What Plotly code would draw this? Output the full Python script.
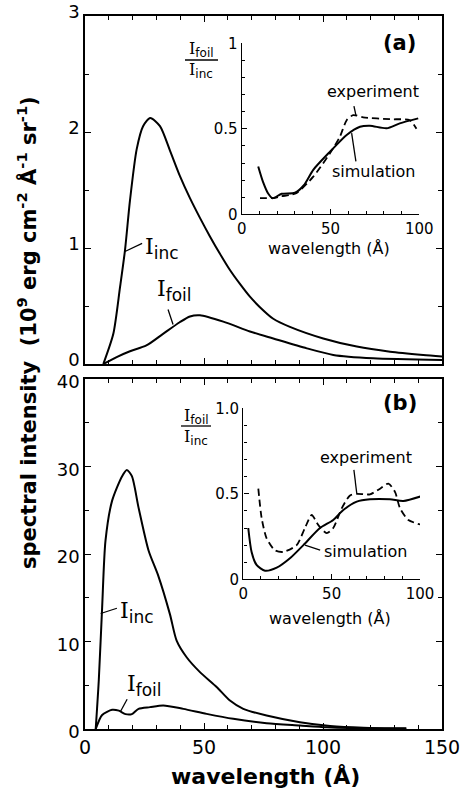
import plotly.graph_objects as go

# ---------------- data ----------------
# panel (a) main
a_inc_x = [7.7, 11.9, 14.7, 16.8, 18.9, 21.7, 24.4, 27.4, 31.5, 35.7, 39.9, 44.1, 48.3, 52.5, 56.7, 60.9, 65.1, 69.3, 73.5, 79.1, 86.1, 100.1, 114.2, 128.2, 142.1, 150]
a_inc_y = [0.0, 0.26, 0.66, 0.98, 1.41, 1.85, 2.05, 2.12, 2.05, 1.84, 1.62, 1.43, 1.26, 1.10, 0.95, 0.81, 0.69, 0.58, 0.49, 0.39, 0.32, 0.22, 0.15, 0.106, 0.078, 0.065]
a_foil_x = [7.7, 13.3, 18.9, 25.8, 32.8, 39.8, 44.1, 48.3, 58.1, 69.3, 79.1, 93.2, 104.3, 121.1, 150]
a_foil_y = [0.0, 0.06, 0.11, 0.16, 0.26, 0.36, 0.41, 0.42, 0.365, 0.28, 0.22, 0.135, 0.078, 0.049, 0.034]

# panel (a) inset
a_sim_x = [9.3, 12, 15, 17.4, 22.5, 30, 35, 40.3, 49.7, 59.1, 66.6, 72.2, 81.6, 89, 99.4]
a_sim_y = [0.28, 0.19, 0.12, 0.094, 0.12, 0.126, 0.17, 0.26, 0.366, 0.464, 0.512, 0.518, 0.503, 0.532, 0.561]
a_exp_x = [10.3, 14, 18, 22, 27.2, 31, 40.3, 49.7, 55.3, 59.1, 62.8, 68.4, 83.4, 94.7, 98.4]
a_exp_y = [0.095, 0.095, 0.095, 0.105, 0.113, 0.125, 0.22, 0.357, 0.454, 0.55, 0.58, 0.567, 0.556, 0.55, 0.50]

# panel (b) main
b_inc_x = [4.5, 5.8, 7.2, 8.6, 11.4, 15.6, 17.6, 19.7, 22.5, 26.7, 30.8, 35.7, 38.5, 42.7, 48.3, 55.3, 60.9, 66.5, 76.3, 90.3, 103, 117, 135]
b_inc_y = [0.0, 5.6, 13.9, 21.5, 26.1, 28.9, 29.6, 28.9, 25.3, 20.4, 17.5, 13.1, 10.1, 8.2, 6.5, 4.8, 3.25, 2.3, 1.54, 0.78, 0.35, 0.15, 0.08]
b_foil_x = [4.5, 7.2, 11.4, 14.2, 17, 19.7, 22.5, 27.3, 32.9, 41.3, 51.1, 62.3, 76.3, 90.3, 101.6, 117, 135]
b_foil_y = [0.0, 1.6, 2.2, 2.1, 1.7, 1.7, 2.3, 2.5, 2.7, 2.3, 1.73, 1.16, 0.66, 0.4, 0.2, 0.08, 0.04]

# panel (b) inset
b_sim_x = [2.8, 4.7, 7.5, 12.3, 18.9, 26.4, 34, 43.4, 50.9, 56.6, 64.2, 71.7, 83, 90.6, 101]
b_sim_y = [0.30, 0.16, 0.084, 0.05, 0.068, 0.123, 0.20, 0.30, 0.347, 0.405, 0.454, 0.468, 0.468, 0.458, 0.487]
b_exp_x = [8.5, 10.4, 13.2, 17.9, 22.6, 30.2, 34.9, 38.7, 42.4, 47.2, 50.9, 55.7, 60.4, 64.2, 71.7, 77.4, 82.1, 85.9, 88.7, 93.4, 101]
b_exp_y = [0.53, 0.357, 0.24, 0.17, 0.16, 0.20, 0.30, 0.376, 0.318, 0.27, 0.30, 0.415, 0.49, 0.50, 0.497, 0.53, 0.56, 0.51, 0.415, 0.347, 0.318]

main_xticks = [0, 50, 100, 150]
a_yticks = [0, 1, 2, 3]
b_yticks = [0, 10, 20, 30, 40]
inset_xticks = [0, 50, 100]
inset_yticks = [0, 0.5, 1]
inset_a_yticktext = ["0", "0.5", "1"]
inset_b_yticktext = ["0", "0.5", "1.0"]

FONT = "DejaVu Sans"
W, H = 467, 789

fig = go.Figure()
solid = dict(color="black", width=2, shape="spline", smoothing=0.7)
dashed = dict(color="black", width=1.8, dash="7px,4px", shape="spline", smoothing=0.7)

fig.add_trace(go.Scatter(x=a_inc_x, y=a_inc_y, mode="lines", line=solid, xaxis="x", yaxis="y"))
fig.add_trace(go.Scatter(x=a_foil_x, y=a_foil_y, mode="lines", line=solid, xaxis="x", yaxis="y"))
fig.add_trace(go.Scatter(x=b_inc_x, y=b_inc_y, mode="lines", line=solid, xaxis="x2", yaxis="y2"))
fig.add_trace(go.Scatter(x=b_foil_x, y=b_foil_y, mode="lines", line=solid, xaxis="x2", yaxis="y2"))
fig.add_trace(go.Scatter(x=a_sim_x, y=a_sim_y, mode="lines", line=solid, xaxis="x3", yaxis="y3"))
fig.add_trace(go.Scatter(x=a_exp_x, y=a_exp_y, mode="lines", line=dashed, xaxis="x3", yaxis="y3"))
fig.add_trace(go.Scatter(x=b_sim_x, y=b_sim_y, mode="lines", line=solid, xaxis="x4", yaxis="y4"))
fig.add_trace(go.Scatter(x=b_exp_x, y=b_exp_y, mode="lines", line=dashed, xaxis="x4", yaxis="y4"))

px = lambda p: p / W
py = lambda p: 1 - p / H

main_common = dict(showline=True, linecolor="black", linewidth=1.6, mirror="allticks",
                   ticks="inside", tickcolor="black", tickwidth=1.4, ticklen=6,
                   showgrid=False, zeroline=False, automargin=False,
                   tickfont=dict(family=FONT, size=18, color="black"))
inset_common = dict(showline=True, linecolor="black", linewidth=1.4, mirror=False,
                    ticks="inside", tickcolor="black", tickwidth=1.2, ticklen=5,
                    showgrid=False, zeroline=False, automargin=False,
                    tickfont=dict(family=FONT, size=15, color="black"))
mtick = lambda d, l=4: dict(dtick=d, ticks="inside", ticklen=l, tickcolor="black", tickwidth=1.2)

xdom = [px(85), px(442)]
fig.update_layout(
    width=W, height=H, autosize=False,
    margin=dict(l=0, r=0, t=0, b=0, pad=0, autoexpand=False),
    paper_bgcolor="white", plot_bgcolor="rgba(0,0,0,0)", showlegend=False,
    xaxis=dict(main_common, domain=xdom, range=[0, 150], tickvals=main_xticks, showticklabels=False,
               minor=mtick(10), anchor="y"),
    yaxis=dict(main_common, domain=[py(364), py(16)], range=[0, 3], tickvals=a_yticks,
               ticklabelshift=-4, minor=mtick(0.5), anchor="x"),
    xaxis2=dict(main_common, domain=xdom, range=[0, 150], tickvals=main_xticks,
                tickfont=dict(family=FONT, size=19, color="black"),
                minor=mtick(10), anchor="y2"),
    yaxis2=dict(main_common, domain=[py(729), py(379)], range=[0, 40], tickvals=b_yticks,
                ticklabelshift=3, minor=mtick(5), anchor="x2"),
    xaxis3=dict(inset_common, domain=[px(241.7), px(419.3)], range=[0, 100], tickvals=inset_xticks,
                minor=mtick(10, 3), anchor="y3"),
    yaxis3=dict(inset_common, domain=[py(214.3), py(43.3)], range=[0, 1], tickvals=inset_yticks,
                ticktext=inset_a_yticktext, minor=mtick(0.1, 3), anchor="x3"),
    xaxis4=dict(inset_common, domain=[px(243.3), px(420)], range=[0, 100], tickvals=inset_xticks,
                minor=mtick(10, 3), anchor="y4"),
    yaxis4=dict(inset_common, domain=[py(579.3), py(408.3)], range=[0, 1], tickvals=inset_yticks,
                ticktext=inset_b_yticktext, minor=mtick(0.1, 3), anchor="x4"),
)

ann = []
def text(x, y, t, size, xref="paper", yref="paper", xanchor="center", yanchor="middle", angle=0):
    ann.append(dict(x=x, y=y, xref=xref, yref=yref, text=t, showarrow=False, xanchor=xanchor,
                    yanchor=yanchor, textangle=angle, font=dict(family=FONT, size=size, color="black")))

def ilabel(sub, subsize):
    return ("<span style=\"font-family:'DejaVu Serif'\">I</span>"
            f"<sub><span style=\"font-size:{subsize}px\">{sub}</span></sub>")

# axis titles
text(px(265), py(776), "<b>wavelength (Å)</b>", 22)
text(px(27), py(333), "<b>spectral intensity  (10<sup>9</sup> erg cm<sup>-2</sup> Å<sup>-1</sup> sr<sup>-1</sup>)</b>", 21, angle=-90)
# panel tags
text(px(418), py(43), "<b>(a)</b>", 21, xanchor="right")
text(px(419), py(403), "<b>(b)</b>", 21, xanchor="right")
# inset x titles
text(px(329), py(249), "wavelength (Å)", 16)
text(px(330), py(618), "wavelength (Å)", 16)
# inset y titles (fractions)
text(px(201), py(50), ilabel("foil", 12), 16)
text(px(201), py(71), ilabel("inc", 12), 16)
text(px(196), py(416), ilabel("foil", 12), 16)
text(px(196), py(437), ilabel("inc", 12), 16)
# curve labels main
text(24.3, 1.0, ilabel("inc", 17), 22, "x", "y", xanchor="left")
text(29.5, 0.63, ilabel("foil", 17), 22, "x", "y", xanchor="left")
text(14.0, 13.3, ilabel("inc", 17), 22, "x2", "y2", xanchor="left")
text(16.8, 5.0, ilabel("foil", 17), 22, "x2", "y2", xanchor="left")
# inset labels
text(46.9, 0.717, "experiment", 16, "x3", "y3", xanchor="left")
text(49.7, 0.25, "simulation", 16, "x3", "y3", xanchor="left")
text(42.3, 0.711, "experiment", 16, "x4", "y4", xanchor="left")
text(44.4, 0.161, "simulation", 16, "x4", "y4", xanchor="left")
fig.update_layout(annotations=ann)

shapes = []
def seg(x0, y0, x1, y1, xref, yref, w=1.3):
    shapes.append(dict(type="line", x0=x0, y0=y0, x1=x1, y1=y1, xref=xref, yref=yref,
                       line=dict(color="black", width=w)))

# leader lines
seg(16.8, 0.97, 24.0, 1.04, "x", "y")
seg(34.9, 0.47, 37.0, 0.34, "x", "y")
seg(6.6, 13.2, 13.4, 13.8, "x2", "y2")
seg(14.9, 2.0, 17.7, 3.4, "x2", "y2")
seg(63.2, 0.633, 64.3, 0.58, "x3", "y3")
seg(61.9, 0.475, 64.3, 0.31, "x3", "y3")
seg(62.6, 0.64, 64.2, 0.503, "x4", "y4")
seg(34.9, 0.20, 43.5, 0.171, "x4", "y4")
# fraction bars
seg(px(185), py(60), px(218), py(60), "paper", "paper", 1.3)
seg(px(181), py(426), px(211), py(426), "paper", "paper", 1.3)
fig.update_layout(shapes=shapes)

fig.write_html("out.html")
